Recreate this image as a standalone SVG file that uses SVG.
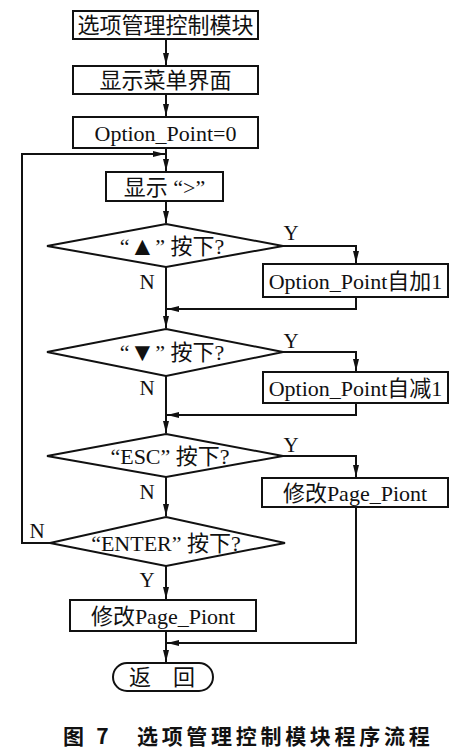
<svg xmlns="http://www.w3.org/2000/svg" width="468" height="751" viewBox="0 0 468 751">
<defs>
<marker id="ah" viewBox="0 0 12 6" refX="12" refY="3" markerWidth="12" markerHeight="6" markerUnits="userSpaceOnUse" orient="auto">
<path d="M0,0 L12,3 L0,6 Z" fill="#111"/>
</marker>
</defs>
<style>
.b{fill:#fff;stroke:#111;stroke-width:2}
.t{font-family:"Liberation Serif","Noto Sans CJK SC",serif;font-size:22px;fill:#111;text-anchor:middle;dominant-baseline:central}
.l{font-family:"Liberation Serif",serif;font-size:21px;fill:#111;text-anchor:middle;dominant-baseline:central}
.c{fill:none;stroke:#111;stroke-width:2}
.cap{font-family:"Noto Sans CJK SC",sans-serif;font-size:21px;font-weight:bold;fill:#111;dominant-baseline:central;letter-spacing:3.7px}
</style>
<rect width="468" height="751" fill="#fff"/>
<g id="connectors">
<path class="c" d="M166,39 V65" marker-end="url(#ah)"/>
<path class="c" d="M166,94 V116" marker-end="url(#ah)"/>
<path class="c" d="M166,148 V171" marker-end="url(#ah)"/>
<path class="c" d="M166,201 V223" marker-end="url(#ah)"/>
<path class="c" d="M283,246 H356 V263" marker-end="url(#ah)"/>
<path class="c" d="M356,297 V309 H167" marker-end="url(#ah)"/>
<path class="c" d="M166,267 V328" marker-end="url(#ah)"/>
<path class="c" d="M283,352 H356 V371" marker-end="url(#ah)"/>
<path class="c" d="M356,403 V415 H167" marker-end="url(#ah)"/>
<path class="c" d="M166,376 V433" marker-end="url(#ah)"/>
<path class="c" d="M283,456 H356 V477" marker-end="url(#ah)"/>
<path class="c" d="M166,477 V516" marker-end="url(#ah)"/>
<path class="c" d="M50,543 H22 V154 H165" marker-end="url(#ah)"/>
<path class="c" d="M166,566 V599" marker-end="url(#ah)"/>
<path class="c" d="M356,507 V643 H167" marker-end="url(#ah)"/>
<path class="c" d="M166,631 V662" marker-end="url(#ah)"/>
<text class="l" x="291" y="233">Y</text>
<text class="l" x="147" y="282">N</text>
<text class="l" x="291" y="341">Y</text>
<text class="l" x="147" y="388">N</text>
<text class="l" x="291" y="445">Y</text>
<text class="l" x="147" y="492">N</text>
<text class="l" x="37" y="531">N</text>
<text class="l" x="147" y="580">Y</text>
</g>
<g id="start"><rect class="b" x="73" y="11" width="185" height="28"/><text class="t" x="165.5" y="25.5">选项管理控制模块</text></g>
<g id="menu"><rect class="b" x="73" y="66" width="185" height="28"/><text class="t" x="165.5" y="80.5">显示菜单界面</text></g>
<g id="init"><rect class="b" x="73" y="117" width="185" height="31"/><text class="t" x="165.5" y="133">Option_Point=0</text></g>
<g id="show"><rect class="b" x="106" y="172" width="117" height="29"/><text class="t" x="164.5" y="187">显示 “&gt;”</text></g>
<g id="up"><polygon class="b" points="166,224 283,246 166,267 47,246"/><text class="t" x="172" y="246">“<tspan font-size="26">▲</tspan>” 按下?</text></g>
<g id="inc"><rect class="b" x="263" y="264" width="185" height="33"/><text class="t" x="355.5" y="281">Option_Point自加1</text></g>
<g id="down"><polygon class="b" points="166,329 283,352 166,376 47,352"/><text class="t" x="172" y="352">“<tspan font-size="26">▼</tspan>” 按下?</text></g>
<g id="dec"><rect class="b" x="263" y="372" width="185" height="31"/><text class="t" x="355.5" y="388">Option_Point自减1</text></g>
<g id="esc"><polygon class="b" points="166,434 283,456 166,477 47,456"/><text class="t" x="170" y="456">“ESC” 按下?</text></g>
<g id="page1"><rect class="b" x="262" y="478" width="186" height="29"/><text class="t" x="355" y="493">修改Page_Piont</text></g>
<g id="enter"><polygon class="b" points="166,517 285,543 166,566 50,543"/><text class="t" x="166" y="543">“ENTER” 按下?</text></g>
<g id="page2"><rect class="b" x="70" y="600" width="186" height="31"/><text class="t" x="163" y="616">修改Page_Piont</text></g>
<g id="ret"><rect class="b" x="113" y="663" width="100" height="28" rx="14" ry="14"/><text class="t" x="162" y="677">返　回</text></g>
<text class="cap" x="63" y="735">图 7　选项管理控制模块程序流程</text>
</svg>
